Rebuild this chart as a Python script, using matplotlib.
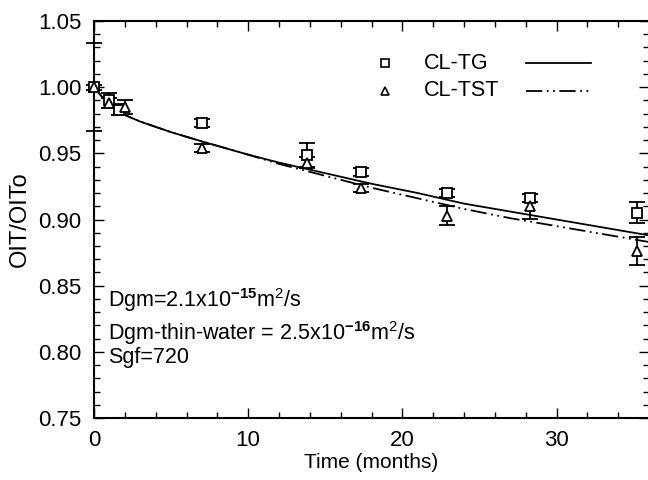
import matplotlib
matplotlib.use("Agg")
import matplotlib.pyplot as plt
from matplotlib.ticker import MultipleLocator, FormatStrFormatter

# measured OIT ratios
t_tg = [0, 1.0, 1.6, 7.0, 13.8, 17.3, 22.9, 28.3, 35.2]
oit_tg = [1.000, 0.990, 0.983, 0.973, 0.949, 0.936, 0.920, 0.916, 0.905]
err_tg = [0.033, 0.0055, 0.004, 0.003, 0.009, 0.003, 0.003, 0.003, 0.008]

t_tst = [0, 1.0, 2.0, 7.0, 13.8, 17.3, 22.9, 28.3, 35.2]
oit_tst = [1.000, 0.988, 0.985, 0.954, 0.943, 0.924, 0.903, 0.910, 0.876]
err_tst = [0.002, 0.004, 0.005, 0.003, 0.004, 0.003, 0.0075, 0.0095, 0.0105]

# model curves
t_fit = [0, 0.5, 1, 2, 3, 5, 7, 10, 12, 15, 18, 21, 24, 27, 30, 33, 36]
fit_tg = [1.000, 0.993, 0.988, 0.979, 0.974, 0.966, 0.959, 0.949, 0.943,
          0.935, 0.927, 0.920, 0.912, 0.906, 0.900, 0.894, 0.888]
fit_tst = [1.000, 0.993, 0.988, 0.979, 0.974, 0.966, 0.959, 0.949, 0.942,
           0.933, 0.924, 0.916, 0.908, 0.901, 0.895, 0.889, 0.883]

labels = ["CL-TG", "CL-TST"]

plt.rcParams['font.family'] = ['Liberation Sans', 'DejaVu Sans']
plt.rcParams['mathtext.fontset'] = 'custom'
plt.rcParams['mathtext.rm'] = 'Liberation Sans'
plt.rcParams['mathtext.bf'] = 'Liberation Sans:bold'

fig = plt.figure(figsize=(6.48, 4.8), dpi=100)
ax = fig.add_axes([94 / 648, 62 / 480, 555 / 648, 397 / 480])

dashdotdot = (0, (9, 2.5, 1, 2.5, 1, 2.5))
ax.plot(t_fit, fit_tg, color="black", lw=1.3)
ax.plot(t_fit, fit_tst, color="black", lw=1.3, linestyle=dashdotdot)

for t, y, e, m in [(t_tg, oit_tg, err_tg, "s"), (t_tst, oit_tst, err_tst, "^")]:
    ax.errorbar(t, y, yerr=e, fmt=m, mfc="white", mec="black", ms=6.5, mew=1.3,
                ecolor="black", elinewidth=1.3, capsize=6, capthick=1.6,
                clip_on=False, zorder=3)

ax.set_xlim(0, 36)
ax.set_ylim(0.75, 1.05)
ax.xaxis.set_major_locator(MultipleLocator(10))
ax.xaxis.set_minor_locator(MultipleLocator(2))
ax.yaxis.set_major_locator(MultipleLocator(0.05))
ax.yaxis.set_minor_locator(MultipleLocator(0.01))
ax.yaxis.set_major_formatter(FormatStrFormatter("%.2f"))
ax.tick_params(which="both", direction="in", top=True, right=True,
               width=1.0, labelsize=16)
ax.tick_params(which="major", length=7, pad=9)
ax.tick_params(which="minor", length=4)
for s in ax.spines.values():
    s.set_linewidth(1.5)

ax.set_xlabel("Time (months)", fontsize=15, labelpad=1)
ax.set_ylabel("OIT/OITo", fontsize=17, labelpad=5)

# legend: marker, name, line style
tr = ax.transAxes
ax.plot([0.525], [0.894], "s", mfc="white", mec="black", ms=6, mew=1.2, transform=tr)
ax.plot([0.525], [0.824], "^", mfc="white", mec="black", ms=6, mew=1.2, transform=tr)
ax.text(0.594, 0.894, labels[0], transform=tr, fontsize=15.5, va="center")
ax.text(0.594, 0.824, labels[1], transform=tr, fontsize=15.5, va="center")
ax.plot([0.778, 0.895], [0.894, 0.894], color="black", lw=1.3, transform=tr)
ax.plot([0.778, 0.895], [0.824, 0.824], color="black", lw=1.3,
        linestyle=dashdotdot, transform=tr)

notes = [r"Dgm=2.1x10$^{\mathbf{-15}}$m$^2$/s",
         r"Dgm-thin-water = 2.5x10$^{\mathbf{-16}}$m$^2$/s",
         "Sgf=720"]
note_y = [0.280, 0.196, 0.138]
for s, y in zip(notes, note_y):
    ax.text(0.026, y, s, transform=tr, fontsize=15.5, va="baseline")

fig.savefig("out.png", dpi=100)
